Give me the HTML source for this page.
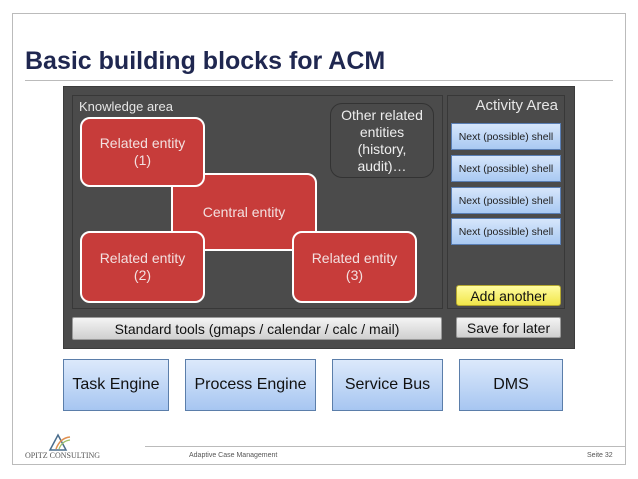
<!DOCTYPE html>
<html><head><style>
body{margin:0;width:638px;height:479px;background:#fff;position:relative;overflow:hidden;font-family:"Liberation Sans",sans-serif;}
.a{position:absolute;box-sizing:border-box;}
.c{display:flex;align-items:center;justify-content:center;text-align:center;}
.red{background:#c73c3a;border:2px solid #fff;border-radius:10px;color:#f3e0e0;font-size:14px;line-height:17px;}
.shell{background:linear-gradient(#d6e6fb,#a9c9f2);border:1px solid #5a7fb5;font-size:10.5px;color:#222;}
.eng{background:linear-gradient(#dce9fb,#a7c6f1);border:1px solid #5b7eaa;font-size:16px;color:#111;}
.gray{background:linear-gradient(#f4f4f4,#cfcfcf);border:1px solid #999;color:#111;font-size:14px;border-radius:2px;}
</style></head><body>
<div class="a" style="left:12px;top:13px;width:614px;height:452px;border:1px solid #bbb;"></div>
<div class="a" style="left:25px;top:49px;font-size:25px;line-height:25px;font-weight:bold;color:#1f2750;white-space:nowrap;">Basic building blocks for ACM</div>
<div class="a" style="left:25px;top:80px;width:588px;height:1px;background:#bbb;"></div>

<div class="a" style="left:63px;top:86px;width:512px;height:263px;background:#4b4b4b;border:1px solid #3c3c3c;"></div>
<div class="a" style="left:72px;top:95px;width:371px;height:214px;border:1px solid #383838;"></div>
<div class="a" style="left:447px;top:95px;width:118px;height:214px;border:1px solid #383838;"></div>
<div class="a" style="left:79px;top:99px;font-size:13px;color:#e6e6e6;">Knowledge area</div>
<div class="a" style="left:447px;top:97px;width:111px;text-align:right;font-size:15px;color:#e6e6e6;">Activity Area</div>

<div class="a c" style="left:330px;top:103px;width:104px;height:75px;border:1px solid #333;border-radius:12px;background:#4a4a4a;color:#eee;font-size:14px;line-height:17px;">Other related<br>entities<br>(history,<br>audit)…</div>

<div class="a c red" style="left:171px;top:173px;width:146px;height:78px;">Central entity</div>
<div class="a c red" style="left:80px;top:117px;width:125px;height:70px;">Related entity<br>(1)</div>
<div class="a c red" style="left:80px;top:231px;width:125px;height:72px;">Related entity<br>(2)</div>
<div class="a c red" style="left:292px;top:231px;width:125px;height:72px;">Related entity<br>(3)</div>

<div class="a c shell" style="left:451px;top:123px;width:110px;height:27px;">Next (possible) shell</div>
<div class="a c shell" style="left:451px;top:155px;width:110px;height:27px;">Next (possible) shell</div>
<div class="a c shell" style="left:451px;top:187px;width:110px;height:27px;">Next (possible) shell</div>
<div class="a c shell" style="left:451px;top:218px;width:110px;height:27px;">Next (possible) shell</div>
<div class="a c" style="left:456px;top:285px;width:105px;height:21px;background:linear-gradient(#fffca0,#f1e64a);border:1px solid #b5a830;border-radius:3px;font-size:14px;color:#111;">Add another</div>
<div class="a c gray" style="left:456px;top:317px;width:105px;height:21px;">Save for later</div>
<div class="a c gray" style="left:72px;top:317px;width:370px;height:23px;">Standard tools (gmaps / calendar / calc / mail)</div>

<div class="a c eng" style="left:63px;top:359px;width:106px;height:52px;">Task Engine</div>
<div class="a c eng" style="left:185px;top:359px;width:131px;height:52px;">Process Engine</div>
<div class="a c eng" style="left:332px;top:359px;width:111px;height:52px;">Service Bus</div>
<div class="a c eng" style="left:459px;top:359px;width:104px;height:52px;">DMS</div>

<div class="a" style="left:145px;top:446px;width:481px;height:1px;background:#bbb;"></div>
<svg class="a" style="left:48px;top:433px;" width="24" height="18"><path d="M2 17 L10 2 L18 17 Z" fill="none" stroke="#4a6d8c" stroke-width="1.5"/><path d="M8 16 Q12 5 22 4" fill="none" stroke="#e09050" stroke-width="1.5"/><path d="M11 16 Q14 8 22 7" fill="none" stroke="#9bc06a" stroke-width="1.2"/></svg>
<div class="a" style="left:25px;top:451px;font-size:8px;color:#555;font-family:'Liberation Serif',serif;white-space:nowrap;">OPITZ CONSULTING</div>
<div class="a" style="left:189px;top:452px;font-size:7px;color:#555;white-space:nowrap;">Adaptive Case Management</div>
<div class="a" style="left:587px;top:452px;font-size:7px;color:#555;">Seite 32</div>
</body></html>
